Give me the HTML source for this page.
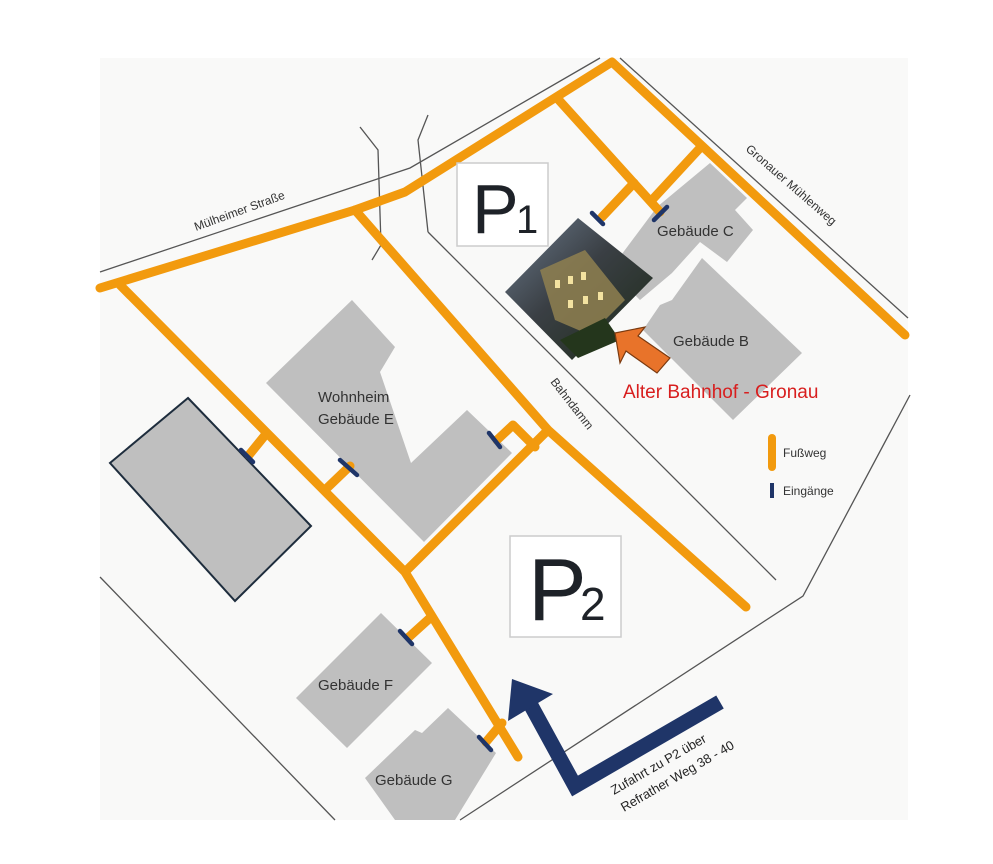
<!DOCTYPE html>
<html><head><meta charset="utf-8"><style>
html,body{margin:0;padding:0;background:#fff;}
svg{display:block;}
text{font-family:"Liberation Sans","DejaVu Sans",sans-serif;}
</style></head><body>
<svg width="993" height="864" viewBox="0 0 993 864" xmlns="http://www.w3.org/2000/svg">
<rect x="0" y="0" width="993" height="864" fill="#ffffff"/>
<rect x="100" y="58" width="808" height="762" fill="#f9f9f8"/>
<g fill="none" stroke="#555" stroke-width="1.3">
<polyline points="100,272 410,168 600,58"/>
<polyline points="360,127 378,150 381,245 372,260"/>
<polyline points="428,115 418,140 428,232"/>
<line x1="428" y1="232" x2="776" y2="580"/>
<line x1="620" y1="58" x2="908" y2="318"/>
<polyline points="910,395 803,596 460,820"/>
<line x1="100" y1="577" x2="335" y2="820"/>
</g>
<g fill="#bfbfbf">
<polygon points="266,383 352,300 395,347 380,372 411,463 467,410 512,453 424,542"/>
<polygon points="188,398 311,526 235,601 110,463" stroke="#1e2d3d" stroke-width="2"/>
<polygon points="381,613 432,663 347,748 296,698"/>
<polygon points="448,708 496,753 455,820 395,820 365,778 415,730 422,733"/>
<polygon points="710,163 747,198 735,210 753,230 727,262 700,242 672,273 640,300 610,270 657,207"/>
<polygon points="702,258 802,353 733,420 643,330 660,305 672,300"/>
</g>
<g fill="none" stroke="#f29a0e" stroke-width="9" stroke-linecap="round" stroke-linejoin="round">
<polyline points="100,288 355,210 405,192 612,62 905,335"/>
<polyline points="557,98 660,212"/>
<polyline points="700,148 652,200"/>
<polyline points="634,183 602,217"/>
<polyline points="355,210 548,430 746,607"/>
<polyline points="120,285 405,572 518,757"/>
<polyline points="405,572 548,430"/>
<polyline points="266,434 249,455"/>
<polyline points="326,489 350,466"/>
<polyline points="535,447 513,425 497,440"/>
<polyline points="430,618 409,637"/>
<polyline points="502,723 486,742"/>
</g>
<g stroke="#1f3568" stroke-width="4.5" stroke-linecap="round">
<line x1="592" y1="213" x2="603" y2="224"/>
<line x1="654" y1="220" x2="667" y2="207"/>
<line x1="241" y1="450" x2="253" y2="462"/>
<line x1="340" y1="460" x2="357" y2="475"/>
<line x1="489" y1="433" x2="500" y2="447"/>
<line x1="400" y1="631" x2="412" y2="644"/>
<line x1="479" y1="737" x2="491" y2="750"/>
</g>
<rect x="457" y="163" width="91" height="83" fill="#fff" stroke="#ccc" stroke-width="1.5"/>
<text x="472" y="233" font-size="70" fill="#1e2228">P</text>
<text x="516" y="233" font-size="40" fill="#1e2228">1</text>
<rect x="510" y="536" width="111" height="101" fill="#fff" stroke="#ccc" stroke-width="1.5"/>
<text x="528" y="620" font-size="88" fill="#1e2228">P</text>
<text x="580" y="620" font-size="46" fill="#1e2228">2</text>
<defs><linearGradient id="ph" x1="0" y1="0" x2="1" y2="1">
<stop offset="0" stop-color="#6b7a8c"/><stop offset="0.45" stop-color="#3a3f44"/><stop offset="1" stop-color="#1d2a18"/></linearGradient></defs>
<polygon points="578,218 653,278 572,360 505,292" fill="url(#ph)"/>
<polygon points="540,270 585,250 625,300 590,335 555,320" fill="#8f8050" opacity="0.85"/>
<g fill="#f3e2a0"><rect x="555" y="280" width="5" height="8"/><rect x="568" y="276" width="5" height="8"/><rect x="581" y="272" width="5" height="8"/><rect x="568" y="300" width="5" height="8"/><rect x="583" y="296" width="5" height="8"/><rect x="598" y="292" width="5" height="8"/></g>
<polygon points="560,340 605,318 620,340 578,358" fill="#24361c"/>
<polygon points="615,333 645,327 638,336 670,358 657,373 626,351 620,363" fill="#e8732a" stroke="#7a3a10" stroke-width="1.2"/>
<text x="623" y="398" font-size="19" fill="#d81e1e">Alter Bahnhof - Gronau</text>
<line x1="772" y1="438" x2="772" y2="467" stroke="#f29a0e" stroke-width="8" stroke-linecap="round"/>
<text x="783" y="457" font-size="12" fill="#333">Fußweg</text>
<line x1="772" y1="483" x2="772" y2="498" stroke="#1f3568" stroke-width="4"/>
<text x="783" y="495" font-size="12" fill="#333">Eingänge</text>
<polyline points="720,702 575,786 528,700" fill="none" stroke="#1f3568" stroke-width="15" stroke-linejoin="miter"/>
<polygon points="512,679 508,721 553,694" fill="#1f3568"/>
<g font-size="13" fill="#222">
<text transform="translate(614,795) rotate(-30)">Zufahrt zu P2 über</text>
<text transform="translate(624,812) rotate(-30)">Refrather Weg 38 - 40</text>
</g>
<g font-size="12" fill="#333">
<text transform="translate(196,231) rotate(-20)">Mülheimer Straße</text>
<text transform="translate(745,150) rotate(41)">Gronauer Mühlenweg</text>
<text transform="translate(550,382) rotate(52)">Bahndamm</text>
</g>
<g font-size="15" fill="#333">
<text x="318" y="402">Wohnheim</text>
<text x="318" y="424">Gebäude E</text>
<text x="657" y="236">Gebäude C</text>
<text x="673" y="346">Gebäude B</text>
<text x="318" y="690">Gebäude F</text>
<text x="375" y="785">Gebäude G</text>
</g>
</svg>
</body></html>
